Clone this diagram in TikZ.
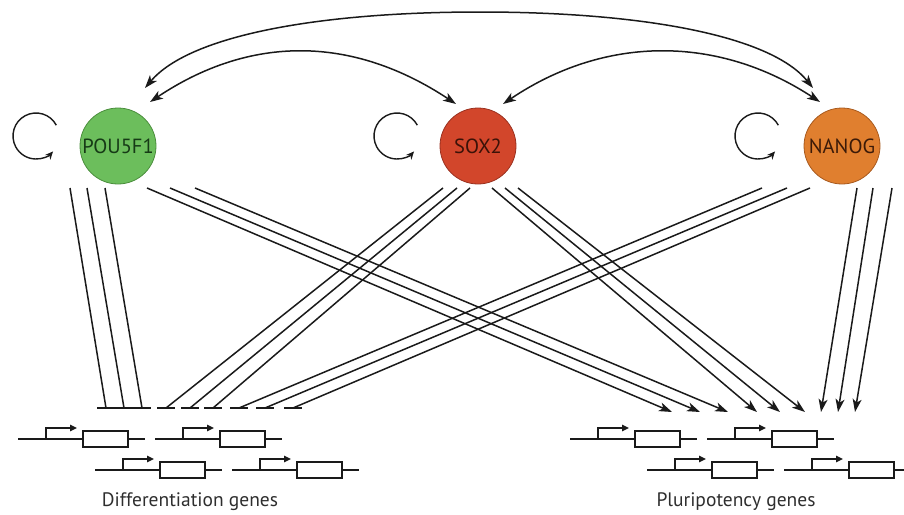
\documentclass[tikz,border=0pt]{standalone}
\usepackage{fontspec}
\setmainfont{PT Sans}
\usetikzlibrary{arrows.meta}
\definecolor{pgreen}{HTML}{6CBE5C}
\definecolor{pgreenD}{HTML}{4A8E3C}
\definecolor{pgreenT}{HTML}{163A16}
\definecolor{sred}{HTML}{D2462B}
\definecolor{sredD}{HTML}{9A3120}
\definecolor{sredT}{HTML}{3B1208}
\definecolor{norange}{HTML}{E07F2F}
\definecolor{norangeD}{HTML}{A85A1E}
\definecolor{norangeT}{HTML}{3B1A08}
\definecolor{ink}{HTML}{1A1A1A}
\definecolor{labelgray}{HTML}{2E2E2E}
\tikzset{
  tf/.style={circle, minimum size=76pt, inner sep=0pt, line width=0.8pt,
    font=\fontsize{20.5}{24}\selectfont},
  link/.style={line width=1.5pt, draw=ink},
  act/.style={link, -{Stealth[length=13pt,width=9pt,inset=3.5pt]}},
  dbl/.style={link, {Stealth[length=13pt,width=9pt,inset=3.5pt]}-{Stealth[length=13pt,width=9pt,inset=3.5pt]}},
  inhib/.style={link},
  tbar/.style={line width=1.8pt, draw=ink},
  selfloop/.style={line width=1.4pt, draw=ink, -{Stealth[length=8pt,width=7pt,inset=2.5pt]}},
  gline/.style={line width=1.5pt, draw=ink},
  glabel/.style={font=\fontsize{19.5}{22}\selectfont, text=labelgray, inner sep=0pt},
  gene/.pic={
    \draw[gline] (0,0) -- (127,0);
    \draw[gline, -{Triangle[length=7pt,width=6.5pt]}] (28,0) -- (28,-11) -- (59,-11);
    \draw[gline, fill=white] (65,-8) rectangle (110,8);
  }
}
\begin{document}
\begin{tikzpicture}[x=1pt, y=-1pt]
\useasboundingbox (0,0) rectangle (904,514);

% transcription factors
\node[tf, fill=pgreen, draw=pgreenD, text=pgreenT] (pou) at (118,146) {POU5F1};
\node[tf, fill=sred, draw=sredD, text=sredT] (sox) at (478,146) {SOX2};
\node[tf, fill=norange, draw=norangeD, text=norangeT] (nan) at (842,146) {NANOG};

% ends of the mutual arcs
\coordinate (pouA) at (145,88);
\coordinate (pouB) at (150,102);
\coordinate (soxA) at (456,104);
\coordinate (soxB) at (503,104);
\coordinate (nanA) at (813,88);
\coordinate (nanB) at (820,102);

\draw[dbl] (pouA) .. controls (190,35) and (320,12) .. (480,12)
                  .. controls (640,12) and (770,35) .. (nanA);
\draw[dbl] (pouB) .. controls (250,35) and (352,35) .. (soxA);
\draw[dbl] (soxB) .. controls (605,35) and (718,35) .. (nanB);

% self loops
\coordinate (pouL) at (36,136);
\coordinate (soxL) at (397,136);
\coordinate (nanL) at (758,136);
\foreach \c in {pouL,soxL,nanL}{
  \draw[selfloop] ([shift={(-28:23)}]\c) arc[start angle=-28, end angle=-318, radius=23];
}

% POU5F1 -> differentiation (inhibition)
\coordinate (pd1) at (70,188);  \coordinate (pdb1) at (106,408);
\coordinate (pd2) at (87,188);  \coordinate (pdb2) at (124,408);
\coordinate (pd3) at (105,188); \coordinate (pdb3) at (142,408);
% SOX2 -> differentiation
\coordinate (sd1) at (443,188); \coordinate (sdb1) at (166,408);
\coordinate (sd2) at (457,188); \coordinate (sdb2) at (190,408);
\coordinate (sd3) at (470,188); \coordinate (sdb3) at (213,408);
% NANOG -> differentiation
\coordinate (nd1) at (762,188); \coordinate (ndb1) at (239,408);
\coordinate (nd2) at (787,188); \coordinate (ndb2) at (265,408);
\coordinate (nd3) at (810,188); \coordinate (ndb3) at (293,408);

\foreach \s/\e in {pd1/pdb1,pd2/pdb2,pd3/pdb3,sd1/sdb1,sd2/sdb2,sd3/sdb3,nd1/ndb1,nd2/ndb2,nd3/ndb3}{
  \draw[inhib] (\s) -- (\e);
  \draw[tbar] ([xshift=-9pt]\e) -- ([xshift=9pt]\e);
}

% activation of pluripotency genes
\coordinate (pp1) at (147,188); \coordinate (ppa1) at (672,412);
\coordinate (pp2) at (170,188); \coordinate (ppa2) at (700,412);
\coordinate (pp3) at (195,188); \coordinate (ppa3) at (728,412);
\coordinate (sp1) at (492,188); \coordinate (spa1) at (757,412);
\coordinate (sp2) at (505,188); \coordinate (spa2) at (780,412);
\coordinate (sp3) at (518,188); \coordinate (spa3) at (805,412);
\coordinate (np1) at (857,188); \coordinate (npa1) at (821,412);
\coordinate (np2) at (873,188); \coordinate (npa2) at (838,412);
\coordinate (np3) at (892,188); \coordinate (npa3) at (855,412);

\foreach \s/\e in {pp1/ppa1,pp2/ppa2,pp3/ppa3,sp1/spa1,sp2/spa2,sp3/spa3,np1/npa1,np2/npa2,np3/npa3}{
  \draw[act] (\s) -- (\e);
}

% genes
\pic (dg1) at (18,439) {gene};
\pic (dg2) at (155,439) {gene};
\pic (dg3) at (95,470) {gene};
\pic (dg4) at (232,470) {gene};
\pic (pg1) at (570,439) {gene};
\pic (pg2) at (707,439) {gene};
\pic (pg3) at (647,470) {gene};
\pic (pg4) at (784,470) {gene};

\node[glabel] (dlab) at (190,502) {Differentiation genes};
\node[glabel] (plab) at (736,502) {Pluripotency genes};
\end{tikzpicture}
\end{document}
